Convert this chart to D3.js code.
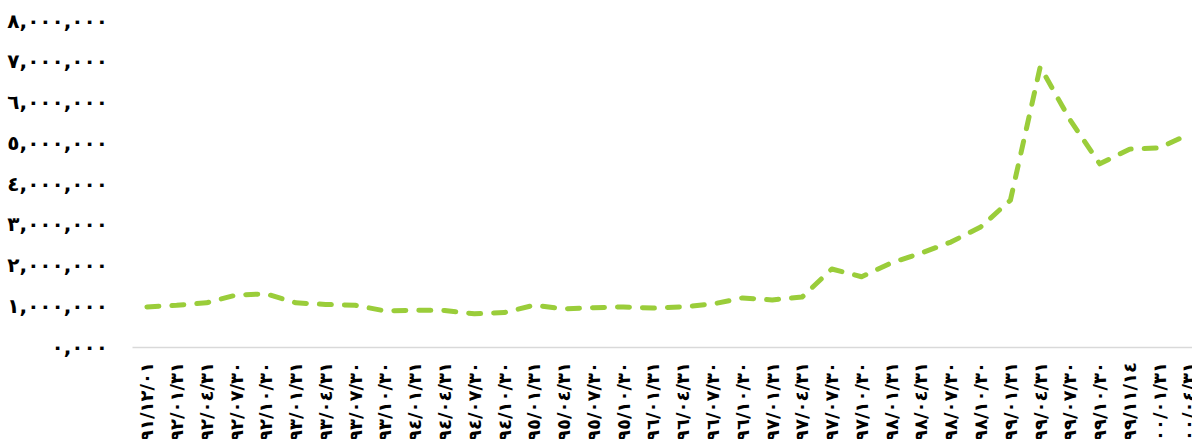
<!DOCTYPE html>
<meta charset="utf-8">
<script src="https://d3js.org/d3.v7.min.js"></script>
<style>
  body { margin: 0; background: #fff; }
  svg { display: block; }
  text { font-family: "DejaVu Sans", sans-serif; font-weight: bold; fill: #000; }
</style>
<div id="chart"></div>
<script>

// dates (Persian calendar) along the x axis
var dates = [
  "١٣٩١/١٢/٠١", "١٣٩٢/٠١/٣١", "١٣٩٢/٠٤/٣١", "١٣٩٢/٠٧/٣٠", "١٣٩٢/١٠/٣٠",
  "١٣٩٣/٠١/٣١", "١٣٩٣/٠٤/٣١", "١٣٩٣/٠٧/٣٠", "١٣٩٣/١٠/٣٠",
  "١٣٩٤/٠١/٣١", "١٣٩٤/٠٤/٣١", "١٣٩٤/٠٧/٣٠", "١٣٩٤/١٠/٣٠",
  "١٣٩٥/٠١/٣١", "١٣٩٥/٠٤/٣١", "١٣٩٥/٠٧/٣٠", "١٣٩٥/١٠/٣٠",
  "١٣٩٦/٠١/٣١", "١٣٩٦/٠٤/٣١", "١٣٩٦/٠٧/٣٠", "١٣٩٦/١٠/٣٠",
  "١٣٩٧/٠١/٣١", "١٣٩٧/٠٤/٣١", "١٣٩٧/٠٧/٣٠", "١٣٩٧/١٠/٣٠",
  "١٣٩٨/٠١/٣١", "١٣٩٨/٠٤/٣١", "١٣٩٨/٠٧/٣٠", "١٣٩٨/١٠/٣٠",
  "١٣٩٩/٠١/٣١", "١٣٩٩/٠٤/٣١", "١٣٩٩/٠٧/٣٠", "١٣٩٩/١٠/٣٠", "١٣٩٩/١١/١٤",
  "١٤٠٠/٠١/٣١", "١٤٠٠/٠٤/٣١"
];

// series values
var values = [
  960000, 1000000, 1060000, 1250000, 1280000,
  1060000, 1020000, 1000000, 860000,
  880000, 870000, 790000, 820000,
  1000000, 910000, 940000, 960000,
  930000, 960000, 1030000, 1180000,
  1130000, 1200000, 1890000, 1700000,
  2040000, 2280000, 2550000, 2920000,
  3580000, 6850000, 5550000, 4470000, 4830000,
  4860000, 5200000
];

// y tick values and labels
var yTicks = [0, 1000000, 2000000, 3000000, 4000000, 5000000, 6000000, 7000000, 8000000];
var yLabels = ["٠,٠٠٠", "١,٠٠٠,٠٠٠", "٢,٠٠٠,٠٠٠", "٣,٠٠٠,٠٠٠", "٤,٠٠٠,٠٠٠",
               "٥,٠٠٠,٠٠٠", "٦,٠٠٠,٠٠٠", "٧,٠٠٠,٠٠٠", "٨,٠٠٠,٠٠٠"];

var width = 1192, height = 439;

var svg = d3.select("#chart")
  .append("svg")
    .attr("width", width)
    .attr("height", height);

// band scale so points sit in the middle of each category
var x = d3.scaleBand()
  .domain(dates)
  .range([132, 1204]);

var y = d3.scaleLinear()
  .domain([0, 8000000])
  .range([346, 20]);

// y axis, labels only
svg.append("g")
  .attr("transform", "translate(108,0)")
  .call(d3.axisLeft(y).tickValues(yTicks).tickSize(0).tickPadding(0)
    .tickFormat(function(d, i) { return yLabels[i]; }))
  .call(function(g) { g.select(".domain").remove(); })
  .selectAll("text")
    .style("font-size", "20px")
    .attr("dy", "0.35em");

// x axis
var xAxis = svg.append("g")
  .attr("transform", "translate(0,347)")
  .call(d3.axisBottom(x).tickSize(0).tickPadding(0));

xAxis.select(".domain")
  .attr("stroke", "#d9d9d9")
  .attr("stroke-width", 1.5);

xAxis.selectAll("text")
  .style("font-size", "18px")
  .style("text-anchor", "end")
  .attr("transform", "translate(0,15)rotate(-90)")
  .attr("dx", 0)
  .attr("dy", "0.35em")
  .attr("y", 0)
  .attr("x", 0);

// the line
var line = d3.line()
  .x(function(d, i) { return x(dates[i]) + x.bandwidth() / 2; })
  .y(function(d) { return y(d); });

svg.append("path")
  .datum(values)
  .attr("d", line)
  .attr("fill", "none")
  .attr("stroke", "#9acd3a")
  .attr("stroke-width", 5)
  .attr("stroke-linecap", "round")
  .attr("stroke-linejoin", "round")
  .attr("stroke-dasharray", "12,13");

</script>
